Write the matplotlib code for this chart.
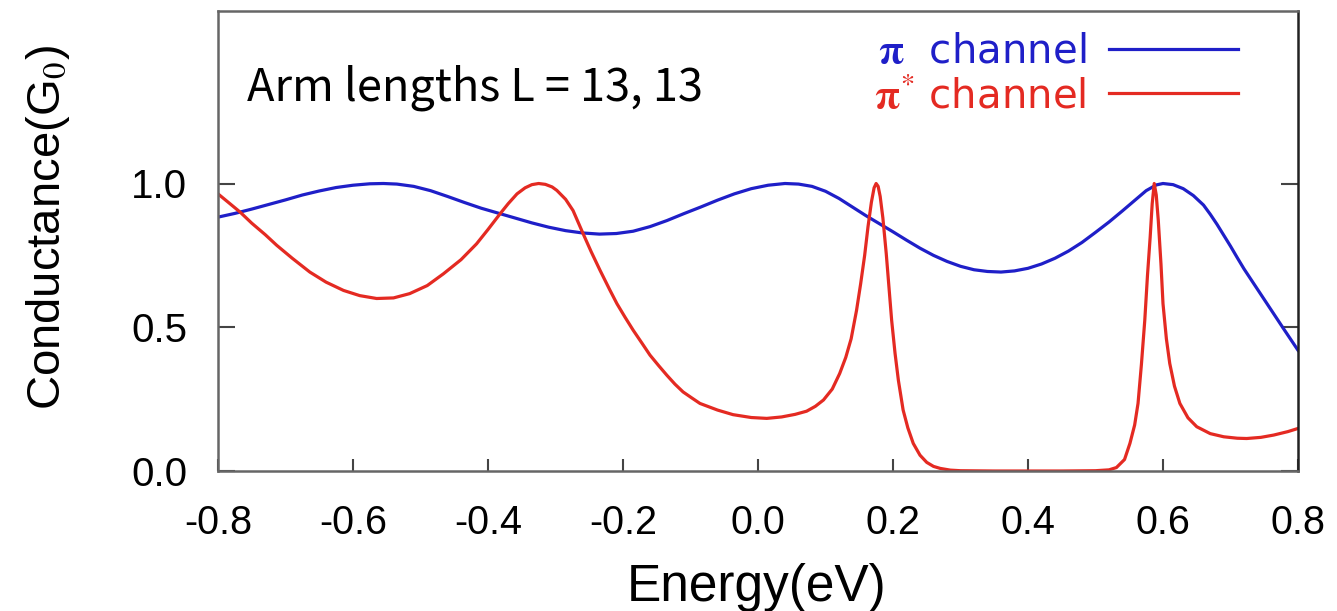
import matplotlib
matplotlib.use("Agg")
import matplotlib.pyplot as plt
from matplotlib.lines import Line2D
from matplotlib import transforms

plt.rcParams['axes.unicode_minus'] = False
plt.rcParams['mathtext.fontset'] = 'stix'

# ---- data ----
blue_E = [-0.800, -0.775, -0.750, -0.725, -0.700, -0.675, -0.650, -0.625, -0.600, -0.575,
          -0.555, -0.535, -0.510, -0.485, -0.460, -0.435, -0.410, -0.385, -0.360, -0.335,
          -0.310, -0.285, -0.260, -0.235, -0.210, -0.185, -0.160, -0.135, -0.110, -0.085,
          -0.060, -0.035, -0.010, 0.015, 0.040, 0.060, 0.080, 0.100, 0.120, 0.140,
          0.160, 0.180, 0.200, 0.220, 0.240, 0.260, 0.280, 0.300, 0.320, 0.340,
          0.360, 0.380, 0.400, 0.420, 0.440, 0.460, 0.480, 0.500, 0.520, 0.540,
          0.560, 0.575, 0.590, 0.600, 0.615, 0.630, 0.645, 0.660, 0.670, 0.680,
          0.690, 0.700, 0.710, 0.720, 0.740, 0.760, 0.780, 0.800]
blue_G = [0.883, 0.896, 0.911, 0.927, 0.943, 0.960, 0.974, 0.986, 0.994, 0.999,
          1.000, 0.998, 0.990, 0.975, 0.955, 0.934, 0.914, 0.897, 0.880, 0.863,
          0.848, 0.836, 0.828, 0.824, 0.826, 0.834, 0.850, 0.871, 0.895, 0.918,
          0.942, 0.964, 0.982, 0.994, 1.000, 0.998, 0.990, 0.973, 0.948, 0.918,
          0.888, 0.860, 0.832, 0.803, 0.775, 0.750, 0.729, 0.712, 0.700, 0.694,
          0.692, 0.696, 0.705, 0.720, 0.740, 0.765, 0.795, 0.830, 0.866, 0.905,
          0.945, 0.975, 0.995, 1.000, 0.996, 0.982, 0.958, 0.925, 0.893, 0.858,
          0.820, 0.782, 0.742, 0.703, 0.632, 0.561, 0.490, 0.420]

red_E = [-0.800, -0.785, -0.767, -0.750, -0.730, -0.713, -0.690, -0.664, -0.640, -0.614,
         -0.590, -0.565, -0.540, -0.516, -0.490, -0.466, -0.440, -0.417, -0.400, -0.382,
         -0.370, -0.357, -0.345, -0.335, -0.325, -0.315, -0.305, -0.298, -0.285, -0.274,
         -0.259, -0.247, -0.234, -0.220, -0.209, -0.197, -0.185, -0.172, -0.160, -0.147,
         -0.135, -0.123, -0.111, -0.098, -0.086, -0.060, -0.037, -0.010, 0.013, 0.035,
         0.055, 0.072, 0.085, 0.097, 0.110, 0.121, 0.130, 0.138, 0.146, 0.152,
         0.158, 0.163, 0.168, 0.172, 0.175, 0.178, 0.181, 0.185, 0.190, 0.194,
         0.198, 0.203, 0.208, 0.215, 0.222, 0.230, 0.240, 0.250, 0.260, 0.270,
         0.285, 0.300, 0.350, 0.450, 0.500, 0.520, 0.531, 0.543, 0.551, 0.558,
         0.563, 0.568, 0.573, 0.577, 0.581, 0.584, 0.587, 0.590, 0.593, 0.597,
         0.600, 0.605, 0.610, 0.617, 0.625, 0.637, 0.650, 0.670, 0.690, 0.710,
         0.724, 0.745, 0.764, 0.785, 0.800]
red_G = [0.964, 0.935, 0.900, 0.862, 0.822, 0.785, 0.740, 0.692, 0.657, 0.628,
         0.610, 0.600, 0.602, 0.617, 0.645, 0.686, 0.735, 0.790, 0.840, 0.895,
         0.930, 0.964, 0.985, 0.996, 1.000, 0.997, 0.988, 0.976, 0.945, 0.906,
         0.825, 0.762, 0.698, 0.632, 0.582, 0.535, 0.490, 0.445, 0.403, 0.366,
         0.333, 0.302, 0.275, 0.254, 0.235, 0.212, 0.196, 0.186, 0.183, 0.188,
         0.197, 0.208, 0.225, 0.247, 0.285, 0.339, 0.395, 0.460, 0.559, 0.650,
         0.750, 0.850, 0.935, 0.985, 1.000, 0.990, 0.955, 0.880, 0.756, 0.640,
         0.524, 0.410, 0.315, 0.212, 0.150, 0.096, 0.055, 0.030, 0.016, 0.009,
         0.003, 0.001, 0.000, 0.000, 0.001, 0.004, 0.012, 0.040, 0.096, 0.160,
         0.235, 0.370, 0.524, 0.680, 0.814, 0.930, 1.000, 0.960, 0.872, 0.720,
         0.582, 0.460, 0.374, 0.295, 0.235, 0.185, 0.154, 0.130, 0.119, 0.114,
         0.113, 0.117, 0.125, 0.137, 0.148]

x_ticks = [-0.8, -0.6, -0.4, -0.2, 0.0, 0.2, 0.4, 0.6, 0.8]
y_ticks = [0.0, 0.5, 1.0]
series_labels = [r"$\mathbf{\pi}$  channel", r"$\mathbf{\pi}^{*}$ channel"]
annotation = "Arm lengths L = 13, 13"

BLUE = "#1f1fc8"
RED = "#e42a22"

fig = plt.figure(figsize=(13.37, 6.11), dpi=100)
ax = fig.add_axes([218/1337, 1 - 471/611, 1080/1337, 460/611])

ax.plot(blue_E, blue_G, color=BLUE, lw=2.3, solid_joinstyle='round')
ax.plot(red_E, red_G, color=RED, lw=2.3, solid_joinstyle='round')

ax.set_xlim(-0.8, 0.8)
ax.set_ylim(0.0, 1.6)
ax.set_xticks(x_ticks)
ax.set_yticks(y_ticks)
ax.set_xticklabels([f"{v:.1f}" for v in x_ticks], fontfamily="Liberation Sans", fontsize=28.5)
ax.set_yticklabels([f"{v:.1f}" for v in y_ticks], fontfamily="Liberation Sans", fontsize=29)
ax.tick_params(axis='x', direction='in', length=9, width=1.5, color='#444444', pad=24,
               top=False, bottom=True)
ax.tick_params(axis='y', direction='in', length=12, width=1.5, color='#444444', pad=22,
               left=True, right=True)

for s in ax.spines.values():
    s.set_color('#666666')
    s.set_linewidth(1.8)
ax.spines['right'].set_color('#222222')

ax.set_xlabel("Energy(eV)", fontfamily="Liberation Sans", fontsize=37)
ax.xaxis.set_label_coords(0.499, -0.2)
ax.xaxis.label.set_va('top')
ax.set_ylabel(r"Conductance(G$_0$)", fontfamily="Liberation Sans", fontsize=34)
ax.yaxis.set_label_coords(-0.135, 0.53)

ax.text(0.027, 1.333, annotation,
        transform=transforms.blended_transform_factory(ax.transAxes, ax.transData),
        fontsize=32.5, fontfamily="Noto Sans CJK KR", va='center', ha='left')

handles = [Line2D([], [], color=BLUE, lw=2.3), Line2D([], [], color=RED, lw=2.3)]
leg = ax.legend(handles, series_labels, loc='upper right', bbox_to_anchor=(0.944, 0.955),
                markerfirst=False, frameon=False, borderpad=0, borderaxespad=0,
                handlelength=3.2, handletextpad=0.55, labelspacing=0.12,
                prop={'family': 'DejaVu Sans', 'size': 29})
for t, c in zip(leg.get_texts(), [BLUE, RED]):
    t.set_color(c)

fig.savefig("out.png", dpi=100)
